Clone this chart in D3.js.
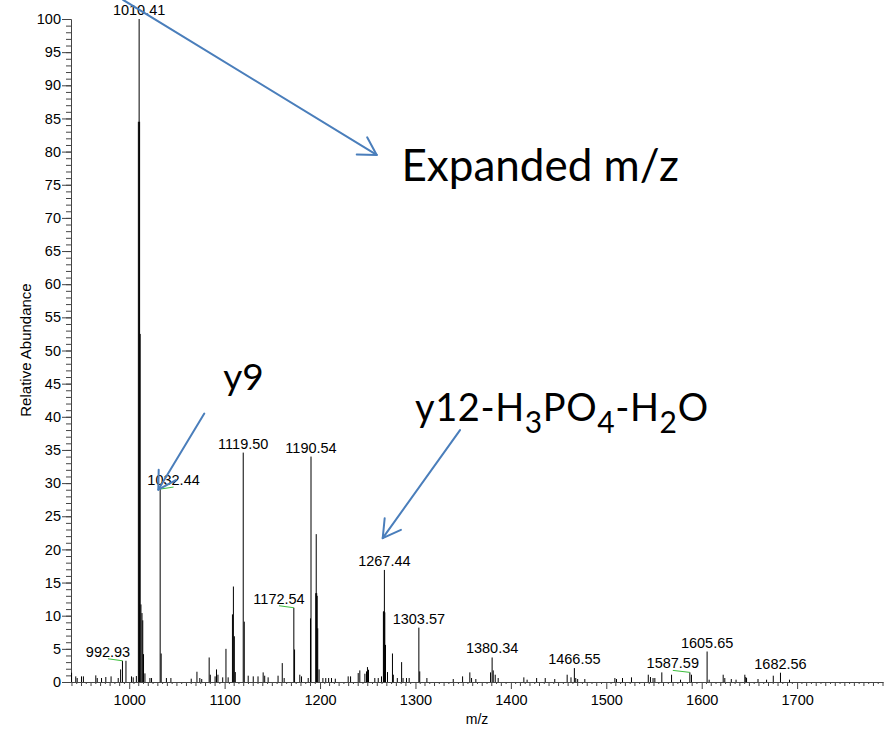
<!DOCTYPE html>
<html>
<head>
<meta charset="utf-8">
<script src="https://cdn.jsdelivr.net/npm/d3@7"></script>
<style>
  body { margin: 0; background: #fff; }
  svg { display: block; }
</style>
</head>
<body>
<div id="chart"></div>
<script>
// spectrum peaks (m/z, relative abundance %)
const peakMz = [
    939.6, 944.0, 945.5, 950.0, 952.0, 965.0, 966.5, 971.0, 975.5, 981.0, 988.5, 991.0, 992.93, 996.6,
    1002.4, 1004.2, 1007.5, 1009.6, 1010.41, 1010.9, 1011.5, 1012.3, 1013.4, 1014.2, 1015.0, 1016.5,
    1021.7, 1023.4, 1032.44, 1033.5, 1039.0, 1043.7, 1065.0, 1071.0, 1074.0, 1076.0, 1083.8, 1085.0,
    1090.0, 1091.5, 1093.0, 1098.0, 1101.4, 1103.7, 1108.2, 1109.2, 1110.2, 1111.2, 1119.50, 1120.6,
    1124.7, 1130.0, 1135.0, 1140.4, 1142.0, 1145.6, 1156.0, 1160.4, 1162.4, 1172.54, 1173.3, 1178.8,
    1180.6, 1187.6, 1190.0, 1190.54, 1195.5, 1196.0, 1196.5, 1197.0, 1197.6, 1199.0, 1203.0, 1206.0,
    1209.0, 1212.0, 1216.0, 1229.5, 1232.0, 1240.0, 1241.7, 1247.0, 1248.7, 1249.7, 1250.8, 1257.4,
    1261.0, 1264.4, 1266.4, 1266.9, 1267.44, 1267.9, 1268.6, 1270.7, 1275.9, 1276.8, 1281.0, 1285.5,
    1287.0, 1290.6, 1293.4, 1303.57, 1304.5, 1312.0, 1339.6, 1349.4, 1357.0, 1358.8, 1363.3, 1378.7,
    1380.34, 1381.5, 1383.6, 1386.7, 1413.6, 1417.0, 1427.0, 1436.0, 1446.0, 1459.0, 1463.0, 1466.55,
    1468.0, 1470.0, 1477.5, 1509.0, 1510.7, 1517.0, 1526.4, 1544.0, 1546.3, 1549.0, 1550.9, 1558.2,
    1568.4, 1577.8, 1587.59, 1589.3, 1605.65, 1607.8, 1622.5, 1624.2, 1631.0, 1636.0, 1645.2, 1646.2,
    1647.0, 1659.0, 1668.0, 1675.0, 1682.56, 1692.0
];
const peakAbundance = [
    1.4, 0.85, 0.6, 0.85, 0.85, 1.0, 0.6, 0.6, 0.75, 0.85, 0.6, 1.9, 3.2, 3.2,
    0.85, 0.7, 0.9, 84.5, 100, 84.5, 52.5, 11.7, 10.4, 9.3, 4.2, 1.3,
    0.6, 0.6, 29.1, 4.3, 0.6, 0.6, 0.5, 1.55, 0.6, 0.45, 3.7, 1.1,
    0.85, 1.9, 1.1, 0.7, 5.0, 0.7, 10.2, 14.4, 6.9, 1.5, 34.6, 9.1,
    0.95, 0.85, 0.85, 1.45, 0.95, 0.7, 0.95, 2.85, 0.6, 11.2, 4.9, 1.1,
    0.85, 0.6, 9.6, 34.0, 13.4, 22.3, 13.4, 13.0, 8.1, 1.9, 0.6, 0.6,
    0.6, 0.6, 0.5, 0.85, 0.85, 1.35, 1.75, 1.25, 1.6, 2.25, 1.85, 0.6,
    0.6, 0.85, 10.6, 10.7, 16.9, 10.5, 5.6, 1.5, 4.3, 1.1, 0.6, 3.0,
    0.6, 0.6, 0.6, 8.2, 1.6, 0.6, 0.45, 0.85, 1.45, 0.6, 0.45, 1.45,
    3.7, 1.75, 1.1, 0.6, 0.7, 0.35, 0.6, 0.6, 0.45, 1.1, 0.7, 2.1,
    0.6, 0.45, 0.45, 0.6, 0.45, 0.6, 0.7, 1.1, 0.75, 0.6, 0.6, 1.45,
    1.1, 0.35, 1.45, 1.1, 4.6, 0.35, 1.1, 0.6, 0.45, 0.35, 1.1, 0.75,
    0.6, 0.45, 0.35, 0.95, 1.4, 0.35
];

// labelled peaks and the m/z where each label text sits
const labelMz = [992.93, 1010.41, 1032.44, 1119.50, 1172.54, 1190.54, 1267.44, 1303.57, 1380.34, 1466.55, 1587.59, 1605.65, 1682.56];
const labelAnchorMz = [977.8, 1010.41, 1046.5, 1119.50, 1157.0, 1190.54, 1267.44, 1303.57, 1380.34, 1466.55, 1569.7, 1605.65, 1682.56];

// axis ticks
const xMajorTicks = [1000, 1100, 1200, 1300, 1400, 1500, 1600, 1700];
const yMajorTicks = [0, 5, 10, 15, 20, 25, 30, 35, 40, 45, 50, 55, 60, 65, 70, 75, 80, 85, 90, 95, 100];

// hand-drawn annotations, in data units [m/z, abundance]
const arrowFrom = [[993.5, 102.9], [1078.7, 40.5], [1346.7, 38.0]];
const arrowTo = [[1259.4, 79.5], [1030.5, 29.0], [1265.7, 21.7]];

const W = 892, H = 729;
const svg = d3.select("#chart").append("svg")
    .attr("width", W)
    .attr("height", H)
    .style("background", "#fff");

const x = d3.scaleLinear().domain([939, 1790]).range([71, 883]);
const y = d3.scaleLinear().domain([0, 100]).range([682, 19]);

const axisColor = "#444";
const labelFont = "'Liberation Sans', Arial, sans-serif";
const labelSize = 14.5;

// y axis: minor every 1, major every 5
svg.append("g")
    .attr("transform", "translate(" + x.range()[0] + ",0)")
    .call(d3.axisLeft(y).tickValues(d3.range(0, 101, 1)).tickSize(5).tickSizeOuter(0).tickFormat(""))
    .call(g => g.selectAll("line,path").attr("stroke", axisColor));

svg.append("g")
    .attr("transform", "translate(" + x.range()[0] + ",0)")
    .call(d3.axisLeft(y).tickValues(yMajorTicks).tickSize(9).tickSizeOuter(0).tickPadding(1).tickFormat(d3.format("d")))
    .call(g => g.selectAll("line,path").attr("stroke", axisColor))
    .call(g => g.selectAll("text").attr("font-family", labelFont).attr("font-size", labelSize).attr("fill", "#000"));

// x axis: small ticks every 5, longer every 10, major every 100
const minorX = d3.range(940, 1791, 5).filter(v => v % 100 !== 0);
svg.append("g")
    .attr("transform", "translate(0," + y(0) + ")")
    .selectAll("line")
    .data(minorX)
    .enter()
    .append("line")
    .attr("x1", d => x(d))
    .attr("x2", d => x(d))
    .attr("y1", 0)
    .attr("y2", d => d % 10 === 0 ? 4 : 2)
    .attr("stroke", axisColor);

svg.append("g")
    .attr("transform", "translate(0," + y(0) + ")")
    .call(d3.axisBottom(x).tickValues(xMajorTicks).tickSize(7).tickSizeOuter(0).tickPadding(6).tickFormat(d3.format("d")))
    .call(g => g.selectAll("line,path").attr("stroke", axisColor))
    .call(g => g.selectAll("text").attr("font-family", labelFont).attr("font-size", labelSize).attr("fill", "#000"));

// axis titles
svg.append("text")
    .attr("transform", "translate(31,350)rotate(-90)")
    .attr("text-anchor", "middle")
    .attr("font-family", labelFont)
    .attr("font-size", 15)
    .text("Relative Abundance");

svg.append("text")
    .attr("x", 477)
    .attr("y", 724)
    .attr("text-anchor", "middle")
    .attr("font-family", labelFont)
    .attr("font-size", 14)
    .text("m/z");

// spectrum sticks
const peaks = peakMz.map((m, i) => ({ mz: m, ab: peakAbundance[i] }));
svg.append("g")
    .selectAll("line")
    .data(peaks)
    .enter()
    .append("line")
    .attr("x1", d => x(d.mz))
    .attr("x2", d => x(d.mz))
    .attr("y1", y(0))
    .attr("y2", d => y(d.ab))
    .attr("stroke", "#000")
    .attr("stroke-width", 1);

// peak labels, with green leaders when a label was pushed aside
const labels = labelMz.map((m, i) => {
    const p = peaks.find(q => q.mz === m);
    return { mz: m, ab: p.ab, anchor: labelAnchorMz[i] };
});

const lab = svg.append("g");
lab.selectAll("line")
    .data(labels.filter(d => d.anchor !== d.mz))
    .enter()
    .append("line")
    .attr("x1", d => x(d.anchor))
    .attr("y1", d => y(d.ab) - 2)
    .attr("x2", d => x(d.mz))
    .attr("y2", d => y(d.ab))
    .attr("stroke", "#3cbe3c")
    .attr("stroke-width", 1);

lab.selectAll("text")
    .data(labels)
    .enter()
    .append("text")
    .attr("x", d => x(d.anchor))
    .attr("y", d => y(d.ab) - 4)
    .attr("text-anchor", "middle")
    .attr("font-family", labelFont)
    .attr("font-size", labelSize)
    .attr("fill", "#000")
    .text(d => d.mz.toFixed(2));

// annotations
const annFont = "Lato, 'Open Sans', sans-serif";
const blue = "#4a7ebb";

const arrows = svg.append("g")
    .attr("stroke", blue)
    .attr("stroke-width", 2)
    .attr("fill", "none")
    .attr("stroke-linecap", "round");

arrowFrom.forEach((f, i) => {
    const x0 = x(f[0]), y0 = y(f[1]);
    const x1 = x(arrowTo[i][0]), y1 = y(arrowTo[i][1]);
    const ang = Math.atan2(y0 - y1, x0 - x1);
    const len = 20, spread = 30 * Math.PI / 180;
    arrows.append("line").attr("x1", x0).attr("y1", y0).attr("x2", x1).attr("y2", y1);
    arrows.append("path")
        .attr("stroke-linejoin", "round")
        .attr("d", "M" + (x1 + len * Math.cos(ang - spread)) + "," + (y1 + len * Math.sin(ang - spread)) +
            "L" + x1 + "," + y1 +
            "L" + (x1 + len * Math.cos(ang + spread)) + "," + (y1 + len * Math.sin(ang + spread)));
});

svg.append("text")
    .attr("x", x(1285.3))
    .attr("y", y(75.6))
    .attr("font-family", annFont)
    .attr("font-size", 44)
    .text("Expanded m/z");

svg.append("text")
    .attr("x", x(1098.6))
    .attr("y", y(44.0))
    .attr("font-family", annFont)
    .attr("font-size", 37)
    .text("y9");

const ion = svg.append("text")
    .attr("x", x(1299.5))
    .attr("y", y(39.3))
    .attr("font-family", annFont)
    .attr("font-size", 38)
    .attr("letter-spacing", 0.6);
const ionParts = [["y12-H", false], ["3", true], ["PO", false], ["4", true], ["-H", false], ["2", true], ["O", false]];
ionParts.forEach((part, i) => {
    const prevSub = i > 0 && ionParts[i - 1][1];
    ion.append("tspan")
        .attr("dy", part[1] ? 12 : (prevSub ? -12 : 0))
        .attr("font-size", part[1] ? 30 : 38)
        .text(part[0]);
});
</script>
</body>
</html>
